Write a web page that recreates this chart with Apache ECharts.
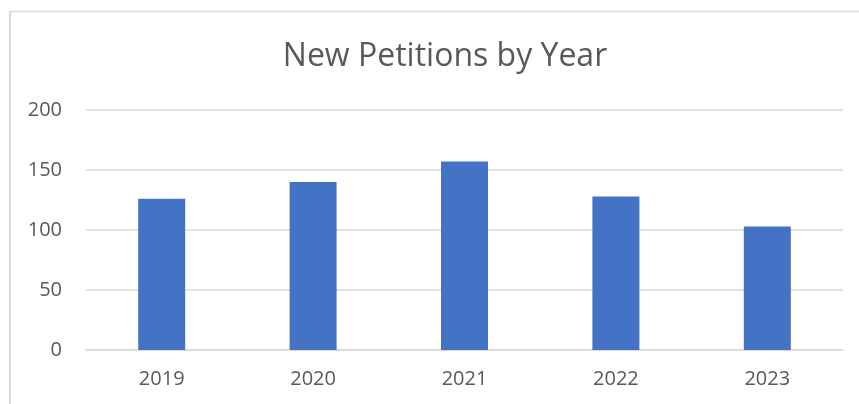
<!DOCTYPE html>
<html>
<head>
<meta charset="utf-8">
<script src="https://cdn.jsdelivr.net/npm/echarts@6/dist/echarts.min.js"></script>
<style>
  html, body { margin: 0; padding: 0; background: #fff; }
  #chart { width: 859px; height: 404px; }
</style>
</head>
<body>
<div id="chart"></div>
<script>
// data
const years = ['2019', '2020', '2021', '2022', '2023'];
const petitions = [126, 140, 157, 128, 103];
const yTicks = [0, 50, 100, 150, 200];

const chart = echarts.init(document.getElementById('chart'));

const option = {
    backgroundColor: '#fff',
    animation: false,
    title: {
        text: 'New Petitions by Year',
        left: 440,
        top: 36,
        textAlign: 'center',
        textStyle: {
            fontFamily: 'Open Sans',
            fontSize: 32,
            fontWeight: 'normal',
            color: '#595959',
        },
    },
    // the frame of the chart, only partly in the picture
    graphic: [
        { type: 'line', shape: { x1: 10, y1: 11, x2: 10, y2: 404 }, style: { stroke: '#d9d9d9', lineWidth: 2 } },
        { type: 'line', shape: { x1: 10, y1: 11.5, x2: 859, y2: 11.5 }, style: { stroke: '#d9d9d9', lineWidth: 1.5 } },
    ],
    grid: {
        left: 86,
        right: 16,
        top: 110,
        bottom: 54,
        containLabel: false,
    },
    xAxis: {
        type: 'category',
        data: years,
        axisTick: { show: false },
        axisLine: { lineStyle: { color: '#d9d9d9', width: 1.5 } },
        axisLabel: {
            margin: 19,
            fontFamily: 'Open Sans',
            fontSize: 20,
            color: '#595959',
        },
    },
    yAxis: {
        type: 'value',
        min: yTicks[0],
        max: yTicks[yTicks.length - 1],
        interval: yTicks[1] - yTicks[0],
        axisLine: { show: false },
        axisTick: { show: false },
        axisLabel: {
            margin: 24,
            fontFamily: 'Open Sans',
            fontSize: 20,
            color: '#595959',
        },
        splitLine: { lineStyle: { color: '#d9d9d9', width: 1.5 } },
    },
    series: [
        {
            name: 'New Petitions',
            type: 'bar',
            data: petitions,
            barWidth: 47,
            itemStyle: { color: '#4472c4' },
        },
    ],
};

chart.setOption(option);
</script>
</body>
</html>
